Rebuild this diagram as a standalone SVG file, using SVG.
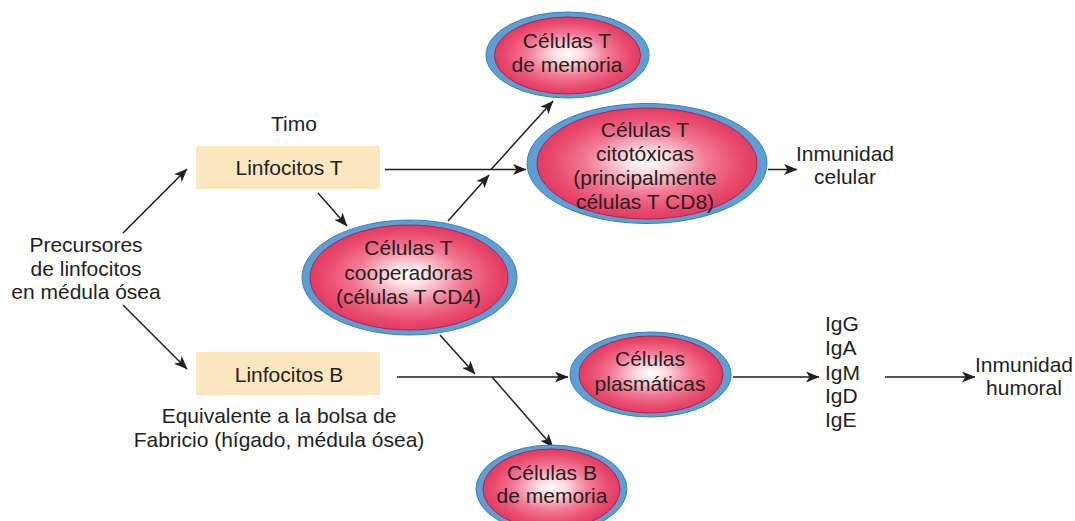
<svg xmlns="http://www.w3.org/2000/svg" width="1075" height="521" viewBox="0 0 1075 521">
<defs>
<style>
text{font-family:"Liberation Sans",Arial,Helvetica,sans-serif;font-size:21px;fill:#231f20;text-anchor:middle}
.l{text-anchor:start}
.box{fill:#fce6c0}
.outer{fill:#5a9fd6;stroke:#3d7fbf;stroke-width:1}
.inner{fill:url(#rg);stroke:#b81e45;stroke-width:1}
.c line{stroke:#231f20;stroke-width:1.5;fill:none}
.a{marker-end:url(#ah)}
</style>
<radialGradient id="rg" cx="50%" cy="50%" r="50%" fx="50%" fy="48%">
<stop offset="0" stop-color="#ffffff"/>
<stop offset="0.2" stop-color="#fcdde3"/>
<stop offset="0.55" stop-color="#f27a94"/>
<stop offset="0.85" stop-color="#e94a6e"/>
<stop offset="1" stop-color="#e23c61"/>
</radialGradient>
<marker id="ah" markerUnits="userSpaceOnUse" markerWidth="14" markerHeight="11" refX="13" refY="5.5" orient="auto" viewBox="0 0 14 11">
<path d="M0,0 L13.5,5.5 L0,11 L3.5,5.5 Z" fill="#231f20"/>
</marker>
</defs>

<g id="connectors" class="c">
<line class="a" x1="123" y1="233" x2="187" y2="169"/>
<line class="a" x1="123" y1="305" x2="187" y2="369"/>
<line class="a" x1="318" y1="193" x2="347" y2="226"/>
<line class="a" x1="385" y1="169.5" x2="526" y2="169.5"/>
<line class="a" x1="448" y1="221" x2="489" y2="175"/>
<line class="a" x1="491" y1="169.5" x2="553" y2="101"/>
<line class="a" x1="768" y1="169.5" x2="797" y2="169.5"/>
<line class="a" x1="440" y1="335" x2="475" y2="374"/>
<line class="a" x1="397" y1="377" x2="568" y2="377"/>
<line class="a" x1="492" y1="377" x2="553" y2="447"/>
<line class="a" x1="733" y1="377" x2="819" y2="377"/>
<line class="a" x1="885" y1="377" x2="975" y2="377"/>
</g>

<g id="precursores">
<text x="86" y="252">Precursores</text>
<text x="86" y="275.5">de linfocitos</text>
<text x="86" y="299">en médula ósea</text>
</g>

<g id="timo"><text x="294" y="131">Timo</text></g>

<g id="linfocitos-t">
<rect class="box" x="196" y="146" width="184" height="43"/>
<text x="289" y="175">Linfocitos T</text>
</g>

<g id="linfocitos-b">
<rect class="box" x="196" y="352" width="184" height="43"/>
<text x="289" y="382">Linfocitos B</text>
</g>

<g id="bolsa">
<text x="279" y="423">Equivalente a la bolsa de</text>
<text x="279" y="447">Fabricio (hígado, médula ósea)</text>
</g>

<g id="t-memoria">
<ellipse class="outer" cx="567.5" cy="55" rx="81.5" ry="43"/>
<ellipse class="inner" cx="567.5" cy="55.5" rx="73" ry="38.5"/>
<text x="567" y="48">Células T</text>
<text x="567" y="72">de memoria</text>
</g>

<g id="t-citotoxicas">
<ellipse class="outer" cx="647" cy="163.5" rx="120" ry="60"/>
<ellipse class="inner" cx="647" cy="163.5" rx="110" ry="55.5"/>
<text x="645" y="137">Células T</text>
<text x="645" y="161">citotóxicas</text>
<text x="645" y="185">(principalmente</text>
<text x="645" y="208.5">células T CD8)</text>
</g>

<g id="t-cooperadoras">
<ellipse class="outer" cx="409.5" cy="277.5" rx="107.5" ry="57.5"/>
<ellipse class="inner" cx="409" cy="277.5" rx="99" ry="52.5"/>
<text x="408.5" y="255">Células T</text>
<text x="408.5" y="280">cooperadoras</text>
<text x="408.5" y="304">(células T CD4)</text>
</g>

<g id="plasmaticas">
<ellipse class="outer" cx="650.5" cy="374.5" rx="80.5" ry="42.5"/>
<ellipse class="inner" cx="651" cy="374.5" rx="72" ry="38.5"/>
<text x="650" y="366">Células</text>
<text x="650" y="391">plasmáticas</text>
</g>

<g id="b-memoria">
<ellipse class="outer" cx="551.5" cy="489" rx="75.5" ry="44"/>
<ellipse class="inner" cx="551.5" cy="489" rx="68.5" ry="40"/>
<text x="552" y="480">Células B</text>
<text x="552" y="503">de memoria</text>
</g>

<g id="inmunidad-celular">
<text x="845" y="161">Inmunidad</text>
<text x="845" y="184">celular</text>
</g>

<g id="inmunoglobulinas">
<text class="l" x="825" y="331">IgG</text>
<text class="l" x="825" y="355">IgA</text>
<text class="l" x="825" y="380">IgM</text>
<text class="l" x="825" y="403">IgD</text>
<text class="l" x="825" y="427">IgE</text>
</g>

<g id="inmunidad-humoral">
<text x="1024" y="372">Inmunidad</text>
<text x="1024" y="395">humoral</text>
</g>
</svg>
